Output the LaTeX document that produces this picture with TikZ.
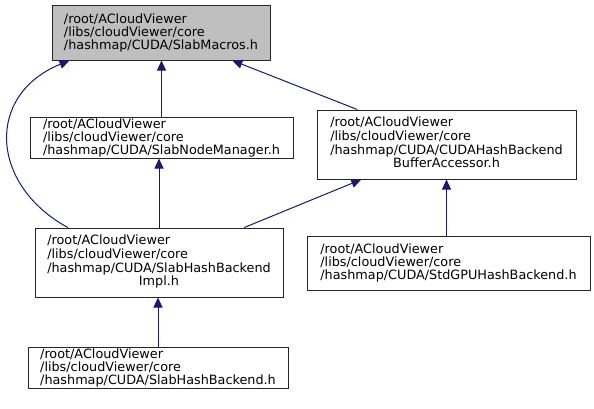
\documentclass[tikz,border=0pt]{standalone}
\usepackage{fontspec}
\setmainfont{DejaVu Sans}
\usetikzlibrary{arrows.meta}
\definecolor{edgeblue}{HTML}{191970}
\definecolor{focusgray}{HTML}{BFBFBF}
\newcommand{\lastcentered}[2]{\begin{tabular}{@{}l@{}}#1\\\multicolumn{1}{@{}c@{}}{#2}\end{tabular}}
\begin{document}
\begin{tikzpicture}[x=1pt,y=-1pt,
    file/.style={draw=black!85, line width=1pt, fill=white, inner sep=0pt, align=left,
      font=\fontsize{12.8}{13}\selectfont},
    edge/.style={draw=edgeblue, line width=1pt, -{Triangle[length=10pt,width=9pt]}}
]
\useasboundingbox[fill=white] (0,0) rectangle (594,408);

% files
\node[file, fill=focusgray, minimum width=218pt, minimum height=55pt] (macros) at (161,32.5)
  {/root/ACloudViewer\\/libs/cloudViewer/core\\/hashmap/CUDA/SlabMacros.h};
\node[file, minimum width=263pt, minimum height=41pt] (nodemgr) at (161.5,137.5)
  {/root/ACloudViewer\\/libs/cloudViewer/core\\/hashmap/CUDA/SlabNodeManager.h};
\node[file, minimum width=259pt, minimum height=69pt] (accessor) at (446.5,144.5)
  {\lastcentered{/root/ACloudViewer\\/libs/cloudViewer/core\\/hashmap/CUDA/CUDAHashBackend}{BufferAccessor.h}};
\node[file, minimum width=248pt, minimum height=69pt] (impl) at (159,262.5)
  {\lastcentered{/root/ACloudViewer\\/libs/cloudViewer/core\\/hashmap/CUDA/SlabHashBackend}{Impl.h}};
\node[file, minimum width=283pt, minimum height=54pt] (stdgpu) at (448.5,263)
  {/root/ACloudViewer\\/libs/cloudViewer/core\\/hashmap/CUDA/StdGPUHashBackend.h};
\node[file, minimum width=260pt, minimum height=41pt] (backend) at (158,367.5)
  {/root/ACloudViewer\\/libs/cloudViewer/core\\/hashmap/CUDA/SlabHashBackend.h};

% includes
\draw[edge] (nodemgr.north) -- (nodemgr.north |- macros.south);
\draw[edge] (accessor) -- (macros);
\draw[edge] (impl.159) .. controls (-10,185) and (-15,95) .. (macros.197);
\draw[edge] (impl.north) -- (impl.north |- nodemgr.south);
\draw[edge] (impl) -- (accessor);
\draw[edge] (backend.north) -- (backend.north |- impl.south);
\draw[edge] (accessor.south |- stdgpu.north) -- (accessor.south);
\end{tikzpicture}
\end{document}
